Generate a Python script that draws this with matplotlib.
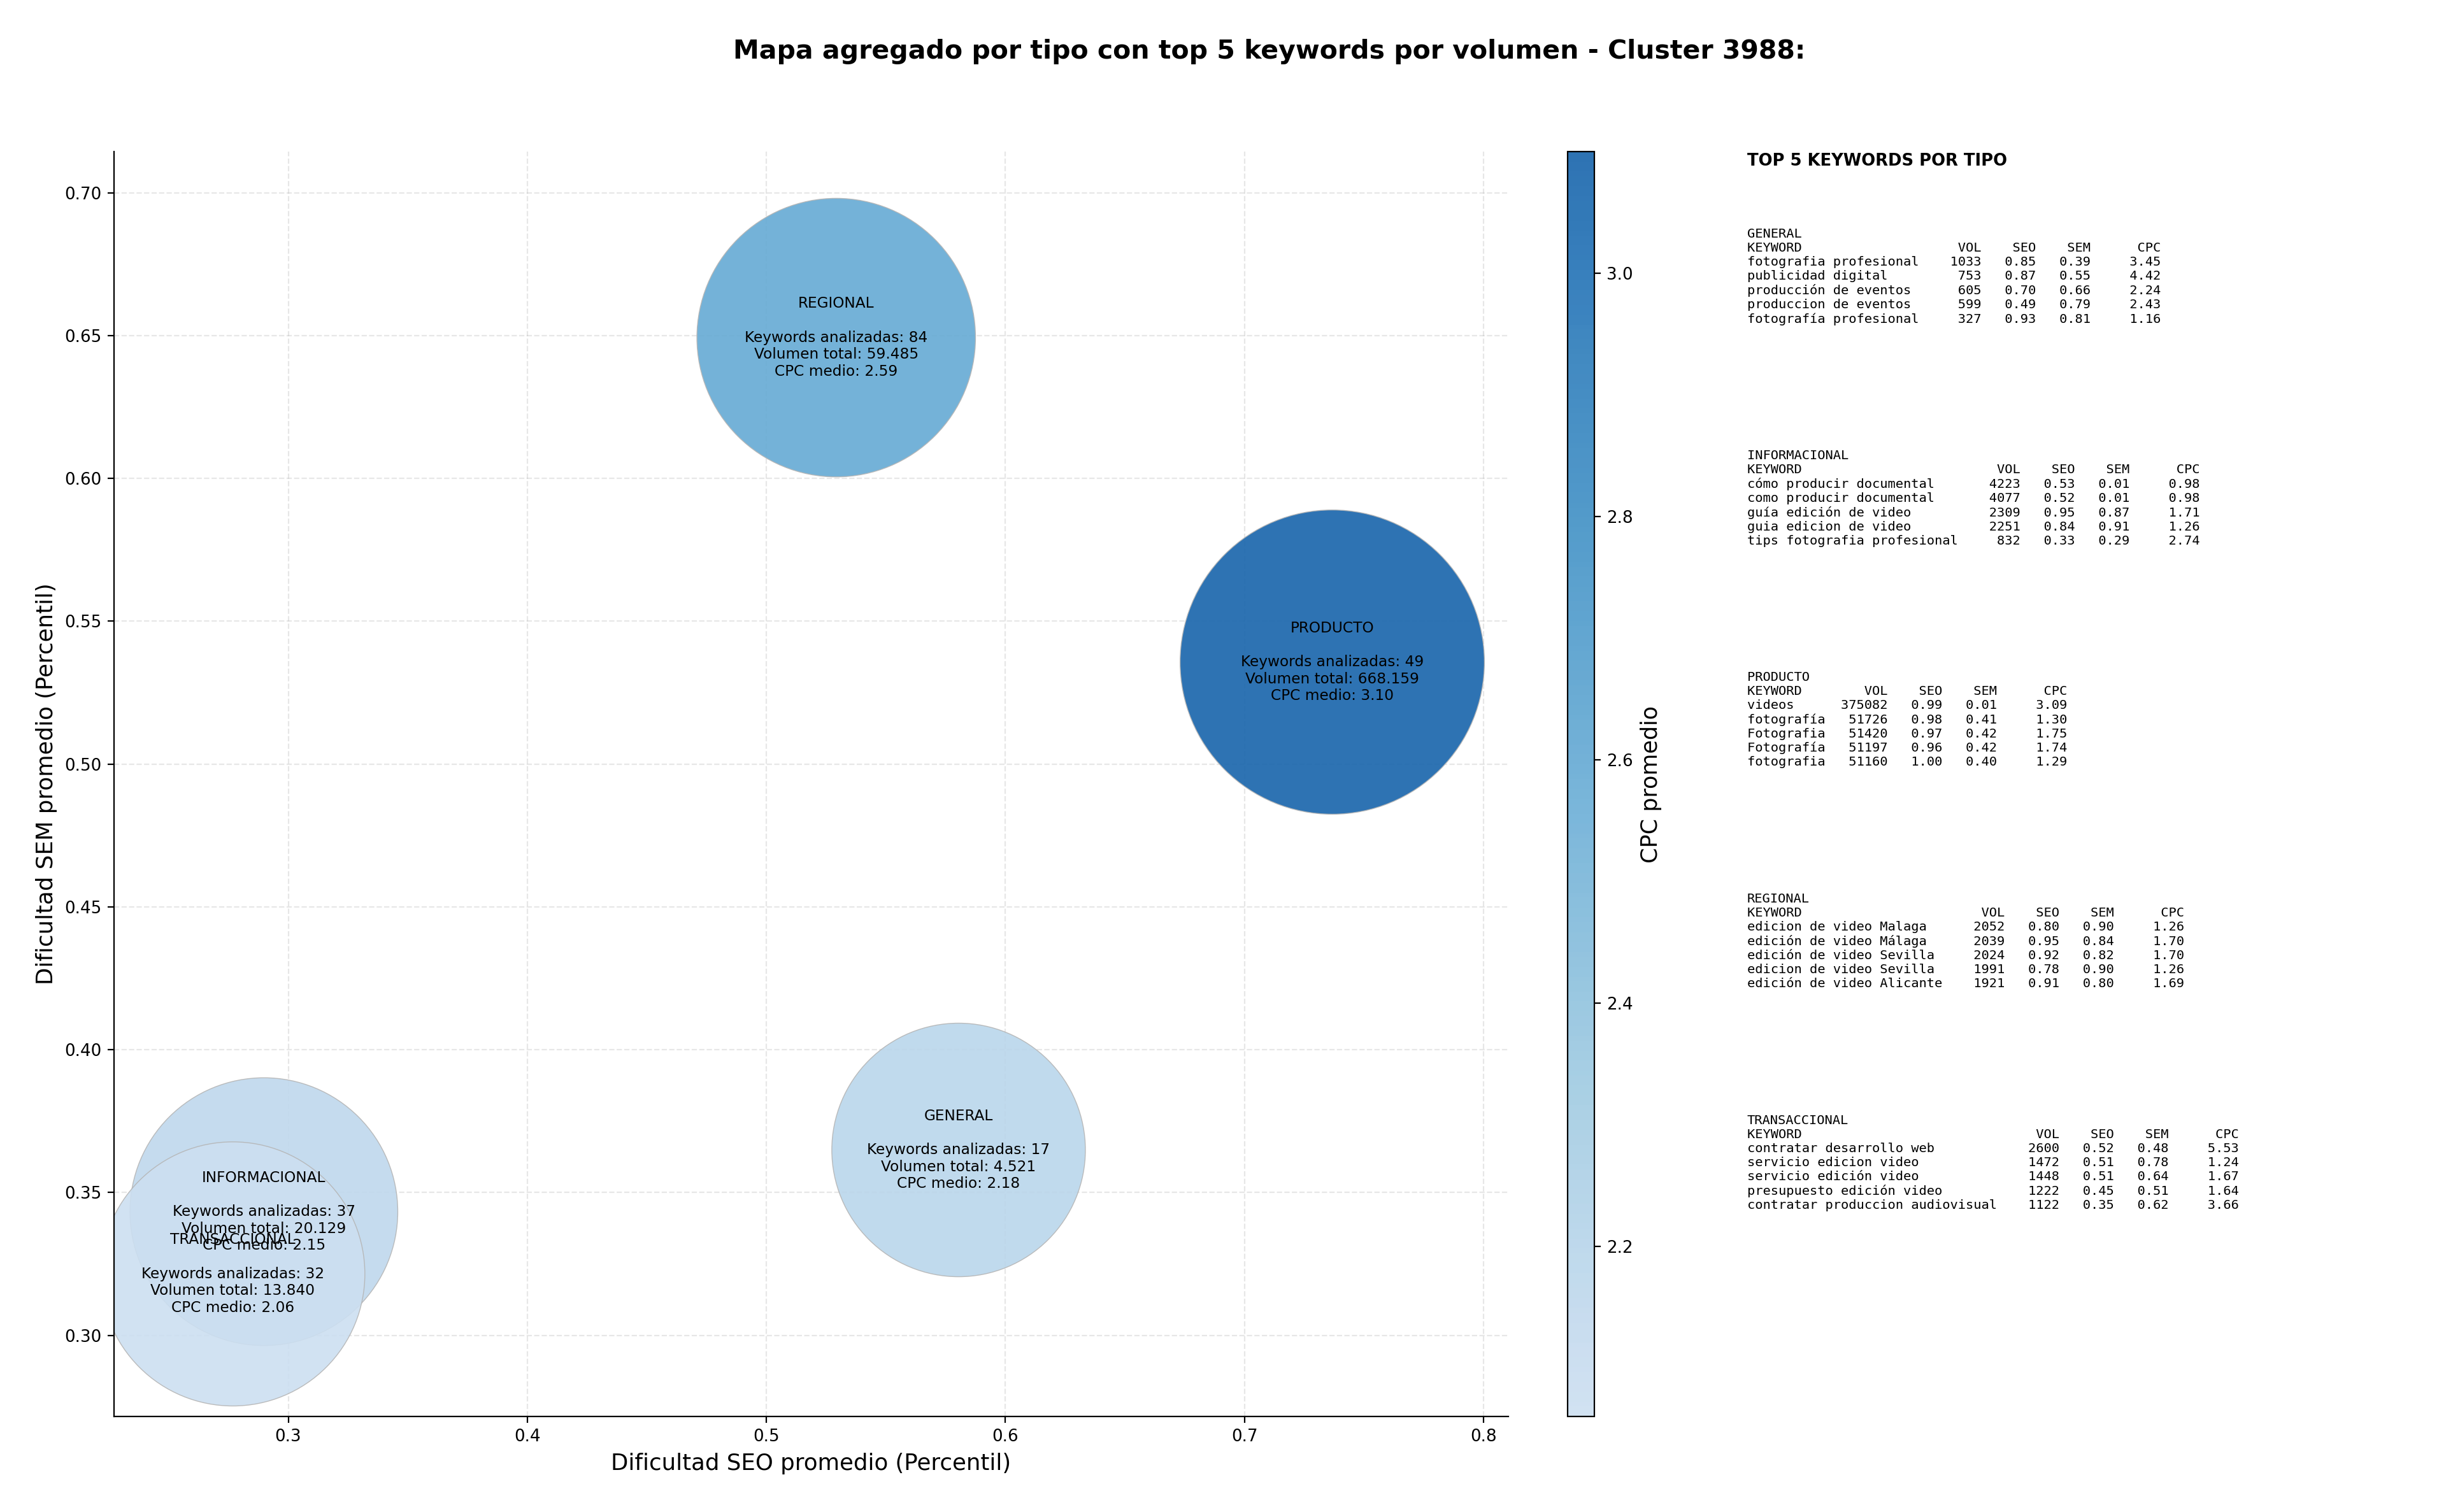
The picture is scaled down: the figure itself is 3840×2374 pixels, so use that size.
import numpy as np
import matplotlib
matplotlib.use("Agg")
import matplotlib.pyplot as plt
from matplotlib.colors import LinearSegmentedColormap

# Aggregated values per keyword type
tipos = ["GENERAL", "INFORMACIONAL", "PRODUCTO", "REGIONAL", "TRANSACCIONAL"]
seo_medio = [0.5804, 0.2898, 0.7367, 0.5292, 0.2768]
sem_medio = [0.3649, 0.3433, 0.5357, 0.6493, 0.3215]
n_keywords = [17, 37, 49, 84, 32]
volumen_total = [4521, 20129, 668159, 59485, 13840]
cpc_medio = [2.18, 2.15, 3.10, 2.59, 2.06]

# Top 5 keywords by volume: (keyword, vol, seo, sem, cpc)
top_general = [
    ("fotografia profesional", 1033, 0.85, 0.39, 3.45),
    ("publicidad digital", 753, 0.87, 0.55, 4.42),
    ("producción de eventos", 605, 0.70, 0.66, 2.24),
    ("produccion de eventos", 599, 0.49, 0.79, 2.43),
    ("fotografía profesional", 327, 0.93, 0.81, 1.16),
]
top_informacional = [
    ("cómo producir documental", 4223, 0.53, 0.01, 0.98),
    ("como producir documental", 4077, 0.52, 0.01, 0.98),
    ("guía edición de video", 2309, 0.95, 0.87, 1.71),
    ("guia edicion de video", 2251, 0.84, 0.91, 1.26),
    ("tips fotografia profesional", 832, 0.33, 0.29, 2.74),
]
top_producto = [
    ("videos", 375082, 0.99, 0.01, 3.09),
    ("fotografía", 51726, 0.98, 0.41, 1.30),
    ("Fotografia", 51420, 0.97, 0.42, 1.75),
    ("Fotografía", 51197, 0.96, 0.42, 1.74),
    ("fotografia", 51160, 1.00, 0.40, 1.29),
]
top_regional = [
    ("edicion de video Malaga", 2052, 0.80, 0.90, 1.26),
    ("edición de video Málaga", 2039, 0.95, 0.84, 1.70),
    ("edición de video Sevilla", 2024, 0.92, 0.82, 1.70),
    ("edicion de video Sevilla", 1991, 0.78, 0.90, 1.26),
    ("edición de video Alicante", 1921, 0.91, 0.80, 1.69),
]
top_transaccional = [
    ("contratar desarrollo web", 2600, 0.52, 0.48, 5.53),
    ("servicio edicion video", 1472, 0.51, 0.78, 1.24),
    ("servicio edición video", 1448, 0.51, 0.64, 1.67),
    ("presupuesto edición video", 1222, 0.45, 0.51, 1.64),
    ("contratar produccion audiovisual", 1122, 0.35, 0.62, 3.66),
]
top_por_tipo = [top_general, top_informacional, top_producto, top_regional, top_transaccional]


def fmt_miles(v):
    return f"{v:,}".replace(",", ".")


def tabla(nombre, filas):
    w = max(len(f[0]) for f in filas) + 2
    lineas = [nombre, f"{'KEYWORD':<{w}}{'VOL':>6}{'SEO':>7}{'SEM':>7}{'CPC':>9}"]
    for kw, vol, seo, sem, cpc in filas:
        lineas.append(f"{kw:<{w}}{vol:>6}{seo:>7.2f}{sem:>7.2f}{cpc:>9.2f}")
    return "\n".join(lineas)


fig = plt.figure(figsize=(19.2, 11.87), dpi=200)
ax = fig.add_axes([0.0466, 0.0632, 0.5701, 0.8365])
cax = fig.add_axes([0.6409, 0.0632, 0.0109, 0.8365])

cmap = LinearSegmentedColormap.from_list(
    "blues_cut", plt.get_cmap("Blues")(np.linspace(0.22, 0.80, 256)))

# bubble area grows slowly with total volume
sizes = 11110 * np.array(volumen_total, dtype=float) ** 0.073

sc = ax.scatter(seo_medio, sem_medio, s=sizes, c=cpc_medio, cmap=cmap,
                alpha=0.9, edgecolors="#b5b5b5", linewidths=0.5, zorder=2)

for i, tipo in enumerate(tipos):
    etiqueta = (f"{tipo}\n\nKeywords analizadas: {n_keywords[i]}\n"
                f"Volumen total: {fmt_miles(volumen_total[i])}\n"
                f"CPC medio: {cpc_medio[i]:.2f}")
    ax.text(seo_medio[i], sem_medio[i], etiqueta, ha="center", va="center",
            fontsize=8.4, zorder=3)

ax.set_xlim(0.2271, 0.8104)
ax.set_ylim(0.2716, 0.7144)
ax.set_xlabel("Dificultad SEO promedio (Percentil)", fontsize=12.8)
ax.set_ylabel("Dificultad SEM promedio (Percentil)", fontsize=12.8)
ax.tick_params(labelsize=9.4)
ax.grid(True, linestyle="--", alpha=0.3)
ax.set_axisbelow(True)
ax.spines["top"].set_visible(False)
ax.spines["right"].set_visible(False)

cbar = fig.colorbar(sc, cax=cax)
cbar.set_label("CPC promedio", fontsize=12.6)
cbar.ax.tick_params(labelsize=9.4)

fig.text(0.519, 0.966, "Mapa agregado por tipo con top 5 keywords por volumen - Cluster 3988:",
         ha="center", va="center", fontsize=14.75, fontweight="bold")

fig.text(0.7143, 0.899, "TOP 5 KEYWORDS POR TIPO", fontsize=9.3, fontweight="bold", va="top")
for i, tipo in enumerate(tipos):
    fig.text(0.7143, 0.8492 - i * 0.1466, tabla(tipo, top_por_tipo[i]),
             family="DejaVu Sans Mono", fontsize=7.35, va="top")

fig.savefig("out.png", dpi=200)
